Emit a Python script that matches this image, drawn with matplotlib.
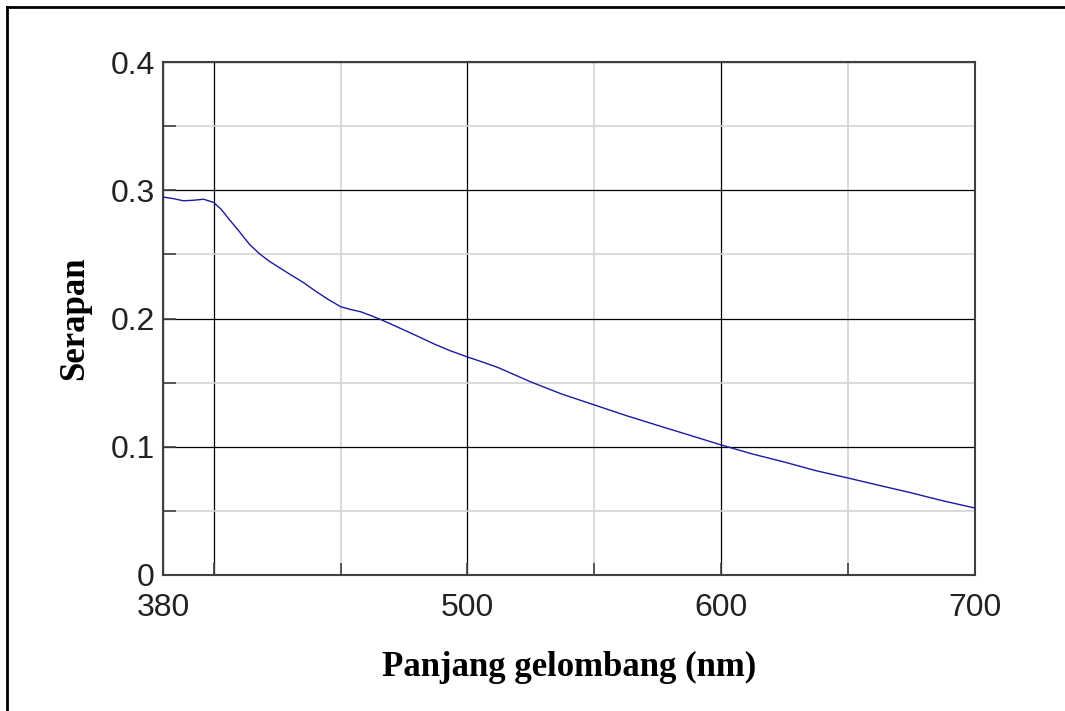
import matplotlib
matplotlib.use("Agg")
import matplotlib.pyplot as plt
from matplotlib.lines import Line2D

# Absorbance spectrum
wavelength = [380, 384, 388, 392, 396, 400, 403, 406, 410, 414, 418, 422, 426,
              430, 435, 440, 445, 450, 454, 458, 462, 466, 470, 475, 480, 487,
              493, 500, 506, 512, 525, 537, 550, 563, 577, 590, 600, 612, 625,
              637, 650, 662, 675, 687, 700]
absorbance = [0.2947, 0.2935, 0.2918, 0.2922, 0.2930, 0.2905, 0.2850, 0.2775,
              0.2680, 0.2580, 0.2505, 0.2445, 0.2395, 0.2345, 0.2285, 0.2215,
              0.2150, 0.2092, 0.2070, 0.2052, 0.2022, 0.1990, 0.1955, 0.1910,
              0.1865, 0.1800, 0.1750, 0.1700, 0.1660, 0.1618, 0.1505, 0.1412,
              0.1326, 0.1240, 0.1154, 0.1075, 0.1014, 0.0945, 0.0880, 0.0815,
              0.0756, 0.0700, 0.0640, 0.0580, 0.0522]

x_major = [380, 400, 500, 600, 700]
x_labels = ["380", "", "500", "600", "700"]
x_minor = [450, 550, 650]
y_major = [0, 0.1, 0.2, 0.3, 0.4]
y_labels = ["0", "0.1", "0.2", "0.3", "0.4"]
y_minor = [0.05, 0.15, 0.25, 0.35]

fig = plt.figure(figsize=(10.65, 7.11), dpi=100)
ax = fig.add_axes([163 / 1065, 1 - 575 / 711, 812 / 1065, 513 / 711])

ax.plot(wavelength, absorbance, color="#1a1aa0", lw=1.0, zorder=3)
ax.set_xlim(380, 700)
ax.set_ylim(0, 0.4)

ax.set_xticks(x_major)
ax.set_xticklabels(x_labels)
ax.set_xticks(x_minor, minor=True)
ax.set_yticks(y_major)
ax.set_yticklabels(y_labels)
ax.set_yticks(y_minor, minor=True)

ax.grid(which="major", color="black", lw=0.9)
ax.grid(which="minor", color="#d4d4d4", lw=1.2)
ax.set_axisbelow(True)

ax.tick_params(which="both", direction="in", length=9, width=1.2,
               color="#404040", top=False, right=False)
ax.tick_params(axis="x", which="major", pad=13, labelsize=23)
ax.tick_params(axis="y", which="major", pad=6, labelsize=23)
for lab in ax.get_xticklabels() + ax.get_yticklabels():
    lab.set_family("Liberation Sans")
    lab.set_color("#222222")

for sp in ax.spines.values():
    sp.set_color("#404040")
    sp.set_linewidth(1.5)

ax.set_xlabel("Panjang gelombang (nm)", family="Liberation Serif",
              fontweight="bold", fontsize=25, labelpad=20)
ax.set_ylabel("Serapan", family="Liberation Serif", fontweight="bold",
              fontsize=25, labelpad=14)

# Page frame around the figure (left and top edges are visible)
fig.add_artist(Line2D([7 / 1065, 7 / 1065], [0, 1 - 7 / 711],
                      color="black", lw=2, transform=fig.transFigure))
fig.add_artist(Line2D([7 / 1065, 1], [1 - 7 / 711, 1 - 7 / 711],
                      color="black", lw=2, transform=fig.transFigure))

fig.savefig("out.png", dpi=100)
